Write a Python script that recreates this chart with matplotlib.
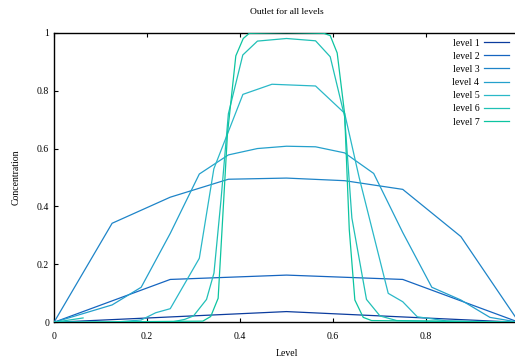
import matplotlib.pyplot as plt
from matplotlib.ticker import FormatStrFormatter

plt.rcParams['font.family'] = ['Liberation Serif', 'DejaVu Serif']

# data, one x/y pair per refinement level
level1_x = [0, 0.5, 1]
level1_y = [0, 0.037, 0]

level2_x = [0, 0.25, 0.5, 0.75, 1]
level2_y = [0, 0.148, 0.163, 0.148, 0]

level3_x = [0, 0.125, 0.25, 0.375, 0.5, 0.625, 0.75, 0.875, 1]
level3_y = [0, 0.342, 0.432, 0.494, 0.498, 0.489, 0.459, 0.296, 0]

level4_x = [0, 0.0625, 0.125, 0.1875, 0.25, 0.3125, 0.375, 0.4375, 0.5,
            0.5625, 0.625, 0.6875, 0.75, 0.8125, 0.875, 0.9375, 1]
level4_y = [0, 0.03, 0.06, 0.121, 0.307, 0.512, 0.578, 0.600, 0.608,
            0.606, 0.585, 0.514, 0.31, 0.121, 0.077, 0.017, 0]

level5_x = [0, 0.125, 0.1875, 0.21875, 0.25, 0.3125, 0.34375, 0.40625, 0.46875,
            0.5625, 0.625, 0.65625, 0.71875, 0.75, 0.78125, 0.84375, 1]
level5_y = [0, 0.0, 0.008, 0.033, 0.047, 0.221, 0.53, 0.787, 0.822,
            0.816, 0.722, 0.5, 0.1, 0.071, 0.019, 0.005, 0]

level6_x = [0.0625, 0, 0.25, 0.281, 0.3, 0.328, 0.344, 0.359, 0.375, 0.406, 0.4375, 0.5,
            0.5625, 0.594, 0.625, 0.6406, 0.672, 0.701, 0.737, 1]
level6_y = [0.015, 0, 0, 0.01, 0.022, 0.079, 0.17, 0.42, 0.72, 0.923, 0.971, 0.98,
            0.972, 0.917, 0.71, 0.36, 0.079, 0.022, 0.006, 0]

level7_x = [0, 0.32, 0.337, 0.353, 0.373, 0.391, 0.407, 0.42, 0.5,
            0.58, 0.594, 0.609, 0.625, 0.635, 0.647, 0.665, 0.683, 1]
level7_y = [0, 0.004, 0.02, 0.083, 0.65, 0.92, 0.98, 0.998, 1.0,
            0.998, 0.99, 0.93, 0.72, 0.32, 0.077, 0.017, 0.006, 0]

labels = ['level 1', 'level 2', 'level 3', 'level 4', 'level 5', 'level 6', 'level 7']
colors = ['#0b3c9e', '#1565c0', '#1e84c8', '#24a0cc', '#2ab8c8', '#20c0b6', '#0cc4a0']

xs = [level1_x, level2_x, level3_x, level4_x, level5_x, level6_x, level7_x]
ys = [level1_y, level2_y, level3_y, level4_y, level5_y, level6_y, level7_y]

fig = plt.figure(figsize=(5.15, 3.61), dpi=100)
# axes run to x=1 just past the right edge of the picture, like the reference crop
ax = fig.add_axes([54 / 515, 1 - 322.3 / 361, 465 / 515, 289.6 / 361])

for x, y, lab, c in zip(xs, ys, labels, colors):
    ax.plot(x, y, color=c, lw=0.9, label=lab, zorder=3)

ax.set_xlim(0, 1)
ax.set_ylim(0, 1)
ax.set_xticks([0, 0.2, 0.4, 0.6, 0.8])
ax.set_yticks([0, 0.2, 0.4, 0.6, 0.8, 1.0])
ax.xaxis.set_major_formatter(FormatStrFormatter('%g'))
ax.yaxis.set_major_formatter(FormatStrFormatter('%g'))
ax.tick_params(direction='in', length=3, width=0.8, labelsize=7, top=True)
ax.tick_params(axis='x', pad=7)
ax.tick_params(axis='y', pad=3.5)
for s in ax.spines.values():
    s.set_linewidth(1.0)
ax.spines['right'].set_visible(False)

fig.text(286.5 / 515, 1 - 12 / 361, 'Outlet for all levels', ha='center', va='center', fontsize=6.8)
fig.text(286.5 / 515, 1 - 354 / 361, 'Level', ha='center', va='center', fontsize=7)
fig.text(16 / 515, 1 - 177 / 361, 'Concentration', ha='center', va='center', rotation=90, fontsize=7)

ax.legend(loc='upper right', bbox_to_anchor=(509.5 / 515, 1 - 38.5 / 361), bbox_transform=fig.transFigure,
          frameon=False, markerfirst=False, fontsize=7, handlelength=2.6, handletextpad=0.5,
          labelspacing=0.43, borderpad=0, borderaxespad=0)

fig.savefig('out.png', dpi=100)
